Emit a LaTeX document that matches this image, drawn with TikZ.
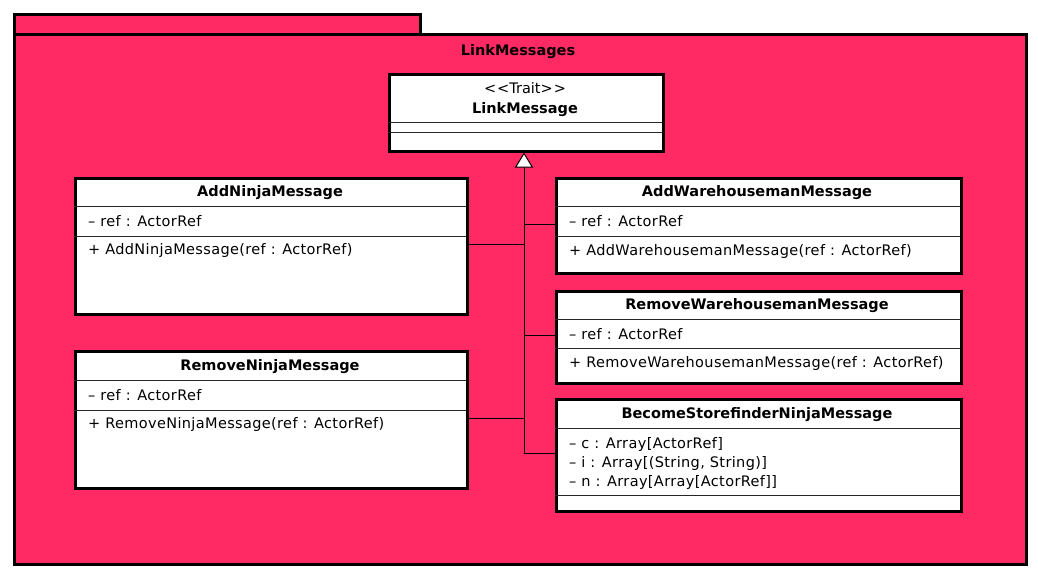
\documentclass[tikz,border=0pt]{standalone}
\usepackage{fontspec}
\setmainfont{DejaVu Sans}
\newfontfamily\attrfont[LetterSpace=2.5,Ligatures=TeX]{DejaVu Sans}
\usetikzlibrary{arrows.meta}
\definecolor{pkgred}{HTML}{FF2A63}
\tikzset{
  pkgbox/.style={draw=black, fill=pkgred, line width=3pt, anchor=north west, inner sep=0pt},
  clsbox/.style={draw=black, fill=white, line width=2.5pt, anchor=north west, inner sep=0pt},
  sepline/.style={line width=0.9pt, draw=black!85},
  ttl/.style={font=\fontsize{14.5}{16}\selectfont\bfseries, inner sep=0pt, text height=10.6pt, text depth=3.4pt, yshift=-2pt},
  attr/.style={font=\attrfont\fontsize{14.5}{16}\selectfont, anchor=west, inner sep=0pt, text height=10.6pt, text depth=3.4pt, yshift=-2pt},
  stereo/.style={font=\fontsize{14.5}{16}\selectfont, inner sep=0pt, text height=10.6pt, text depth=3.4pt, yshift=-2pt},
  conn/.style={line width=1pt, draw=black},
  inh/.style={conn, -{Triangle[length=15pt,width=18pt,fill=white,line width=1pt]}},
}
\begin{document}
\begin{tikzpicture}[x=1pt,y=-1pt]
\useasboundingbox (0,0) rectangle (1038,576);
% package
\node[pkgbox, minimum width=406pt, minimum height=20pt] (tab) at (13,13) {};
\node[pkgbox, minimum width=1012pt, minimum height=530pt] (pkg) at (13,33) {};
\node[ttl] (pkgname) at (518,50) {LinkMessages};

% trait
\node[clsbox, minimum width=274pt, minimum height=77pt] (trait) at (388,73) {};
\node[stereo] (traitst) at (525,88) {{<}\kern1pt{<}Trait{>}\kern1pt{>}};
\node[ttl] (traitname) at (525,108) {LinkMessage};
\draw[sepline] (388,122) -- (662,122);
\draw[sepline] (388,132) -- (662,132);

% AddNinjaMessage
\node[clsbox, minimum width=392pt, minimum height=136pt] (an) at (74,177) {};
\node[ttl] (antitle) at (270,191) {AddNinjaMessage};
\draw[sepline] (74,206) -- (466,206);
\node[attr] (anattr) at (88,221) {– ref : ActorRef};
\draw[sepline] (74,236) -- (466,236);
\node[attr] (anop) at (88,249) {+ AddNinjaMessage(ref : ActorRef)};

% RemoveNinjaMessage
\node[clsbox, minimum width=392pt, minimum height=137pt] (rn) at (74,350) {};
\node[ttl] (rntitle) at (270,365) {RemoveNinjaMessage};
\draw[sepline] (74,380) -- (466,380);
\node[attr] (rnattr) at (88,395) {– ref : ActorRef};
\draw[sepline] (74,410) -- (466,410);
\node[attr] (rnop) at (88,423) {+ RemoveNinjaMessage(ref : ActorRef)};

% AddWarehousemanMessage
\node[clsbox, minimum width=405pt, minimum height=95pt] (aw) at (555,177) {};
\node[ttl] (awtitle) at (757,191) {AddWarehousemanMessage};
\draw[sepline] (555,206) -- (960,206);
\node[attr] (awattr) at (569,221) {– ref : ActorRef};
\draw[sepline] (555,236) -- (960,236);
\node[attr] (awop) at (569,250) {+ AddWarehousemanMessage(ref : ActorRef)};

% RemoveWarehousemanMessage
\node[clsbox, minimum width=405pt, minimum height=92pt] (rw) at (555,290) {};
\node[ttl] (rwtitle) at (757,304) {RemoveWarehousemanMessage};
\draw[sepline] (555,319) -- (960,319);
\node[attr] (rwattr) at (569,334) {– ref : ActorRef};
\draw[sepline] (555,348) -- (960,348);
\node[attr] (rwop) at (569,362) {+ RemoveWarehousemanMessage(ref : ActorRef)};

% BecomeStorefinderNinjaMessage
\node[clsbox, minimum width=405pt, minimum height=112pt] (bs) at (555,398) {};
\node[ttl] (bstitle) at (757,413) {BecomeStorefinderNinjaMessage};
\draw[sepline] (555,428) -- (960,428);
\node[attr] (bsc) at (569,443) {– c : Array[ActorRef]};
\node[attr] (bsi) at (569,462) {– i : Array[(String, String)]};
\node[attr] (bsn) at (569,481) {– n : Array[Array[ActorRef]]};
\draw[sepline] (555,495) -- (960,495);

% connectors
\coordinate (jAW) at (524,224);
\coordinate (jAN) at (524,244);
\coordinate (jRW) at (524,335);
\coordinate (jRN) at (524,418);
\coordinate (jBS) at (524,453);
\draw[conn] (an.east |- jAN) -- (jAN);
\draw[conn] (rn.east |- jRN) -- (jRN);
\draw[conn] (aw.west |- jAW) -- (jAW);
\draw[conn] (rw.west |- jRW) -- (jRW);
\draw[conn] (bs.west |- jBS) -- (jBS);
\draw[inh] (jBS) -- (trait.south -| jBS);
\end{tikzpicture}
\end{document}
